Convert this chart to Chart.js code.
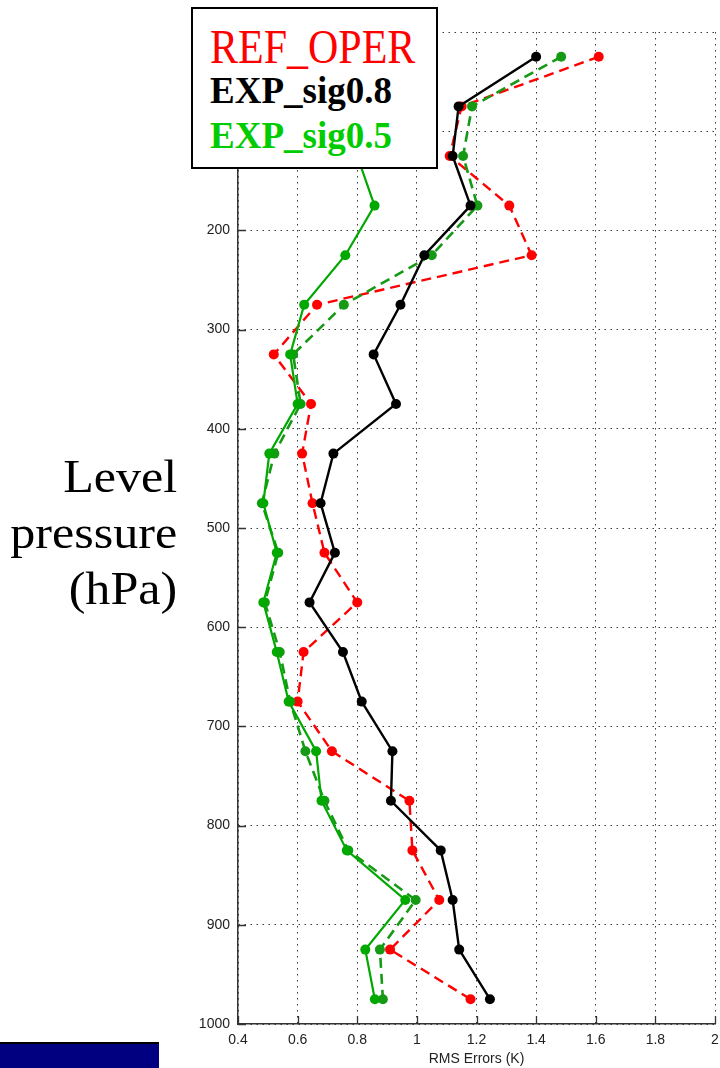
<!DOCTYPE html>
<html>
<head>
<meta charset="utf-8">
<script src="https://cdn.jsdelivr.net/npm/chart.js@4.4.1/dist/chart.umd.min.js"></script>
<style>
  html, body { margin: 0; padding: 0; background: #fff; }
  #wrap { position: relative; width: 720px; height: 1068px; overflow: hidden; }
  #c { position: absolute; left: 0; top: 0; }
  #legend { position: absolute; left: 191px; top: 7px; width: 247px; height: 162px;
    box-sizing: border-box; border: 2px solid #000; background: #fff; }
  .lg { position: absolute; left: 17px; white-space: nowrap; font-family: "Liberation Serif", "Times New Roman", serif; line-height: 1; }
  #ytitle { position: absolute; right: 543px; top: 449px; text-align: right;
    font-family: "Liberation Serif", "Times New Roman", serif; font-size: 46px; line-height: 56px; color: #000;
    transform: scaleX(1.09); transform-origin: 100% 50%; }
  #bar { position: absolute; left: 0; top: 1042px; width: 159px; height: 26px; background: #000080; border-top: 2px solid #000; box-sizing: border-box; }
</style>
</head>
<body>
<div id="wrap">
  <canvas id="c" width="720" height="1068"></canvas>
  <div id="legend">
    <span class="lg" id="lg0" style="top:19px; font-size:42px; color:#ff0000; transform: scaleY(1.15); transform-origin: 0 35px;">REF_OPER</span>
    <span class="lg" id="lg1" style="top:63px; font-size:37px; font-weight:bold; color:#000;">EXP_sig0.8</span>
    <span class="lg" id="lg2" style="top:108px; font-size:37px; font-weight:bold; color:#00cc00;">EXP_sig0.5</span>
  </div>
  <div id="ytitle">Level<br>pressure<br>(hPa)</div>
  <div id="bar"></div>
</div>
<script>
// ---- data ----
const levels = [25, 75, 125, 175, 225, 275, 325, 375, 425, 475, 525, 575, 625, 675, 725, 775, 825, 875, 925, 975];
const refOper = [1.61, 1.15, 1.11, 1.31, 1.385, 0.665, 0.52, 0.645, 0.615, 0.65, 0.69, 0.80, 0.62, 0.60, 0.715, 0.975, 0.985, 1.075, 0.91, 1.18];
const expSig08 = [1.40, 1.14, 1.12, 1.18, 1.025, 0.945, 0.855, 0.93, 0.72, 0.677, 0.725, 0.64, 0.752, 0.815, 0.918, 0.913, 1.08, 1.12, 1.142, 1.245];
const expSig05 = [0.82, 0.77, 0.80, 0.858, 0.76, 0.622, 0.575, 0.60, 0.505, 0.485, 0.53, 0.485, 0.53, 0.57, 0.662, 0.68, 0.765, 0.961, 0.827, 0.859];
const expSig05b = [1.484, 1.185, 1.155, 1.203, 1.05, 0.755, 0.585, 0.61, 0.522, 0.48, 0.535, 0.49, 0.54, 0.575, 0.626, 0.69, 0.77, 0.996, 0.876, 0.886];
const xTickLabels = ['0.4', '0.6', '0.8', '1', '1.2', '1.4', '1.6', '1.8', '2'];
const yTickLabels = ['0', '100', '200', '300', '400', '500', '600', '700', '800', '900', '1000'];
const xTitle = 'RMS Errors (K)';

const pts = arr => levels.map((p, i) => ({ x: arr[i], y: p }));

const inwardTicks = {
  id: 'inwardTicks',
  beforeDatasetsDraw(chart) {
    const { ctx, chartArea: a, scales: { x, y } } = chart;
    ctx.save();
    ctx.strokeStyle = '#333';
    ctx.lineWidth = 1.3;
    ctx.beginPath();
    x.ticks.forEach(t => { const px = Math.round(x.getPixelForValue(t.value)) + 0.5; ctx.moveTo(px, a.bottom); ctx.lineTo(px, a.bottom - 8); });
    y.ticks.forEach(t => { const py = Math.round(y.getPixelForValue(t.value)) + 0.5; ctx.moveTo(a.left, py); ctx.lineTo(a.left + 8, py); });
    ctx.stroke();
    ctx.restore();
  }
};

const tickFont = { family: '"Liberation Sans", Arial, sans-serif', size: 14 };

new Chart(document.getElementById('c'), {
  type: 'line',
  data: {
    datasets: [
      { label: 'REF_OPER', data: pts(refOper), borderColor: '#ff0000', backgroundColor: '#ff0000',
        borderWidth: 2.4, borderDash: [10, 6], pointRadius: 5, pointBorderWidth: 0, order: 4 },
      { label: 'EXP_sig0.5 (b)', data: pts(expSig05b), borderColor: '#169a16', backgroundColor: '#169a16',
        borderWidth: 2.6, borderDash: [10, 6], pointRadius: 5, pointBorderWidth: 0, order: 3 },
      { label: 'EXP_sig0.5', data: pts(expSig05), borderColor: '#00a800', backgroundColor: '#00a800',
        borderWidth: 2.2, pointRadius: 5, pointBorderWidth: 0, order: 2 },
      { label: 'EXP_sig0.8', data: pts(expSig08), borderColor: '#000000', backgroundColor: '#000000',
        borderWidth: 2.4, pointRadius: 5, pointBorderWidth: 0, order: 1 }
    ]
  },
  options: {
    responsive: false,
    animation: false,
    indexAxis: 'y',
    layout: { padding: { left: 0, right: 2, top: 32, bottom: 0 } },
    plugins: { legend: { display: false }, tooltip: { enabled: false } },
    elements: { line: { tension: 0 } },
    scales: {
      x: {
        type: 'linear', position: 'bottom', min: 0.4, max: 2.0,
        ticks: { stepSize: 0.2, padding: 8, color: '#222', font: tickFont, maxRotation: 0, autoSkip: false,
          callback: v => xTickLabels[Math.round((v - 0.4) / 0.2)] },
        grid: { color: '#3c3c3c', lineWidth: 1, drawTicks: false },
        border: { display: true, color: '#333', width: 1.5, dash: [1.5, 4.5] },
        title: { display: true, text: xTitle, color: '#222', font: { family: tickFont.family, size: 14, lineHeight: '18px' }, padding: 0 },
        afterFit: s => { s.height = 44; s.paddingLeft = 0; s.paddingRight = 0; }
      },
      y: {
        type: 'linear', position: 'left', reverse: true, min: 0, max: 1000,
        ticks: { stepSize: 100, padding: 8, color: '#222', font: tickFont, autoSkip: false,
          callback: v => yTickLabels[Math.round(v / 100)] },
        grid: { color: '#3c3c3c', lineWidth: 1, drawTicks: false },
        border: { display: true, color: '#333', width: 1.5, dash: [1.5, 4.5] },
        afterFit: s => { s.width = 238; s.paddingTop = 0; s.paddingBottom = 0; }
      }
    }
  },
  plugins: [inwardTicks]
});
</script>
</body>
</html>
